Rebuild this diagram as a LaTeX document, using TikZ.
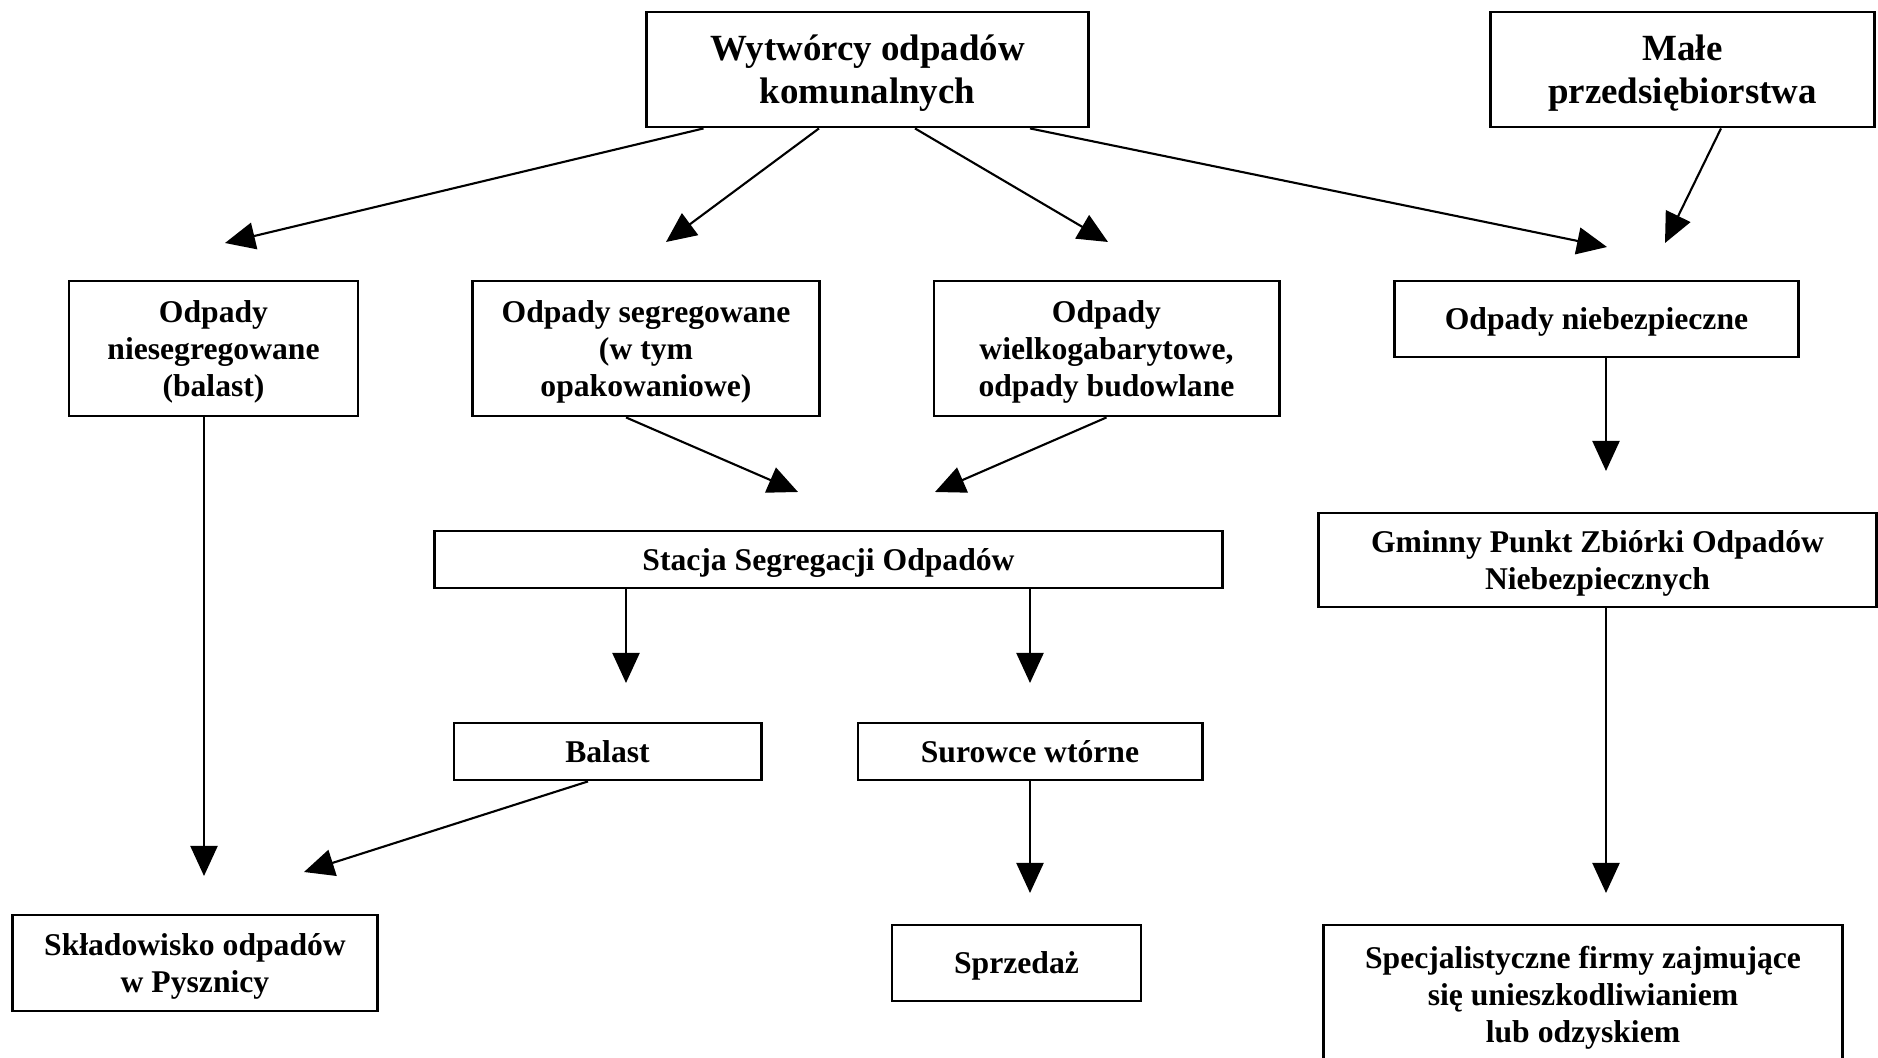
\documentclass[tikz,border=0pt]{standalone}
\usepackage{fontspec}
\setmainfont{Liberation Serif}
\usetikzlibrary{arrows.meta,calc}
\newcommand*{\mytextstyle}{\bfseries\fontsize{9}{10.5}\selectfont}
\newcommand*{\mybigstyle}{\bfseries\fontsize{10.5}{12.2}\selectfont}
\tikzset{
   wbox/.style = {
      draw,
      line width = 0.8pt,
      align      = center,
      inner sep  = 0pt,
      text depth = -0.7pt,
      font       = \mytextstyle
   },
   flow/.style = {
      -{Triangle[length=0.3cm, width=0.27cm]},
      line width = 0.6pt
   }
}

\begin{document}
\begin{tikzpicture}[x=0.01cm, y=-0.01cm]
   \useasboundingbox (0,0) rectangle (1878,1058);

   % top row
   \node (wytw) at (867.5,69.5) [wbox, font=\mybigstyle,
      minimum width=4.41cm, minimum height=1.15cm]
      {Wytwórcy odpadów\\komunalnych};
   \node (male) at (1682.5,69.5) [wbox, font=\mybigstyle,
      minimum width=3.83cm, minimum height=1.15cm]
      {Małe\\przedsiębiorstwa};

   % kinds of waste
   \node (niesegr) at (213.5,348.5) [wbox,
      minimum width=2.89cm, minimum height=1.35cm]
      {Odpady\\niesegregowane\\(balast)};
   \node (segr) at (646,348.5) [wbox,
      minimum width=3.46cm, minimum height=1.35cm]
      {Odpady segregowane\\(w tym\\opakowaniowe)};
   \node (wielko) at (1106.5,348.5) [wbox,
      minimum width=3.45cm, minimum height=1.35cm]
      {Odpady\\wielkogabarytowe,\\odpady budowlane};
   \node (niebezp) at (1596.5,319) [wbox,
      minimum width=4.03cm, minimum height=0.76cm]
      {Odpady niebezpieczne};

   % middle
   \node (stacja) at (828.5,559.5) [wbox,
      minimum width=7.87cm, minimum height=0.57cm]
      {Stacja Segregacji Odpadów};
   \node (gminny) at (1597.5,560) [wbox,
      minimum width=5.57cm, minimum height=0.94cm]
      {Gminny Punkt Zbiórki Odpadów\\Niebezpiecznych};
   \node (balast) at (607.5,751.5) [wbox,
      minimum width=3.07cm, minimum height=0.57cm]
      {Balast};
   \node (surowce) at (1030,751.5) [wbox,
      minimum width=3.44cm, minimum height=0.57cm]
      {Surowce wtórne};

   % bottom row
   \node (skladowisko) at (195,963) [wbox,
      minimum width=3.64cm, minimum height=0.96cm]
      {Składowisko odpadów\\w Pysznicy};
   \node (sprzedaz) at (1016.5,963) [wbox,
      minimum width=2.49cm, minimum height=0.76cm]
      {Sprzedaż};
   \node (specjal) at (1583,994) [wbox,
      minimum width=5.18cm, minimum height=1.38cm]
      {Specjalistyczne firmy zajmujące\\się unieszkodliwianiem\\lub odzyskiem};

   % arrow tips
   \coordinate (t1)  at (225,243);
   \coordinate (t2)  at (666,242);
   \coordinate (t3)  at (1108,242);
   \coordinate (t4)  at (1607,247);
   \coordinate (t5)  at (1665,243);
   \coordinate (t6)  at (204,876);
   \coordinate (t7)  at (798,492);
   \coordinate (t8)  at (935,492);
   \coordinate (t9)  at (626,683);
   \coordinate (t10) at (1030,683);
   \coordinate (t11) at (304,872);
   \coordinate (t12) at (1030,893);
   \coordinate (t13) at (1606,471);
   \coordinate (t14) at (1606,893);

   \draw[flow] ($(wytw.south)+(-164,0)$)   -- (t1);
   \draw[flow] ($(wytw.south)+(-48.5,0)$)  -- (t2);
   \draw[flow] ($(wytw.south)+(47.5,0)$)   -- (t3);
   \draw[flow] ($(wytw.south)+(162.5,0)$)  -- (t4);
   \draw[flow] ($(male.south)+(38.5,0)$)   -- (t5);
   \draw[flow] ($(niesegr.south)+(-9.5,0)$) -- (t6);
   \draw[flow] ($(segr.south)+(-20,0)$)    -- (t7);
   \draw[flow] (wielko.south)              -- (t8);
   \draw[flow] ($(stacja.south)+(-202.5,0)$) -- (t9);
   \draw[flow] ($(stacja.south)+(201.5,0)$)  -- (t10);
   \draw[flow] ($(balast.south)+(-19.5,0)$)  -- (t11);
   \draw[flow] (surowce.south)             -- (t12);
   \draw[flow] ($(niebezp.south)+(9.5,0)$) -- (t13);
   \draw[flow] ($(gminny.south)+(8.5,0)$)  -- (t14);
\end{tikzpicture}
\end{document}
